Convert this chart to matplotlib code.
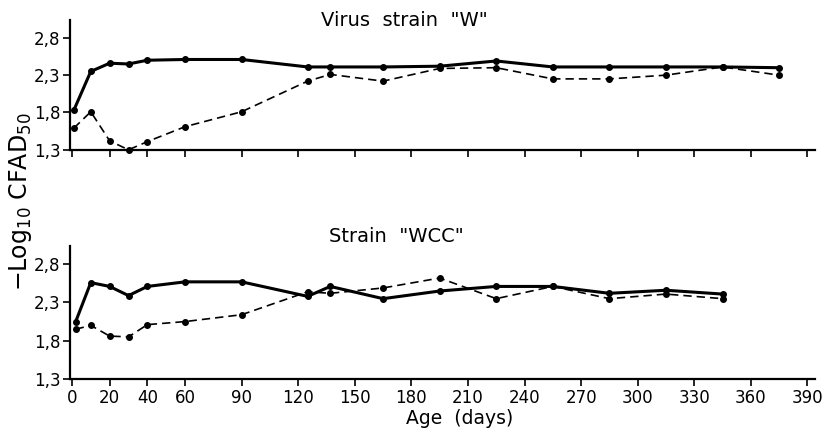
import matplotlib
matplotlib.use("Agg")
import matplotlib.pyplot as plt

# Data
days_w = [1, 10, 20, 30, 40, 60, 90, 125, 137, 165, 195, 225, 255, 285, 315, 345, 375]
w_solid = [1.83, 2.35, 2.46, 2.45, 2.50, 2.51, 2.51, 2.41, 2.41, 2.41, 2.42, 2.49, 2.41, 2.41, 2.41, 2.41, 2.40]
w_dashed = [1.59, 1.81, 1.42, 1.30, 1.41, 1.61, 1.81, 2.22, 2.31, 2.22, 2.39, 2.40, 2.25, 2.25, 2.30, 2.41, 2.30]

days_wcc = [2, 10, 20, 30, 40, 60, 90, 125, 137, 165, 195, 225, 255, 285, 315, 345]
wcc_solid = [2.05, 2.56, 2.51, 2.39, 2.51, 2.57, 2.57, 2.38, 2.51, 2.35, 2.45, 2.51, 2.51, 2.42, 2.46, 2.41]
wcc_dashed = [1.95, 2.00, 1.86, 1.85, 2.01, 2.05, 2.14, 2.44, 2.42, 2.49, 2.62, 2.35, 2.51, 2.35, 2.41, 2.35]

xticks = [0, 20, 40, 60, 90, 120, 150, 180, 210, 240, 270, 300, 330, 360, 390]
yticks = [1.3, 1.8, 2.3, 2.8]
ytick_labels = ["1,3", "1,8", "2,3", "2,8"]

plt.rcParams['font.family'] = ['DejaVu Sans']

fig = plt.figure(figsize=(8.24, 4.33), dpi=100)
ax1 = fig.add_axes([0.085, 0.654, 0.904, 0.30])
ax2 = fig.add_axes([0.085, 0.125, 0.904, 0.307])

def style(ax, show_labels):
    ax.set_xlim(-1, 394)
    ax.set_ylim(1.3, 3.04)
    for s in ['top', 'right']:
        ax.spines[s].set_visible(False)
    for s in ['left', 'bottom']:
        ax.spines[s].set_linewidth(1.6)
        ax.spines[s].set_color('black')
    ax.set_xticks(xticks)
    ax.set_yticks(yticks)
    ax.set_yticklabels(ytick_labels, fontsize=12)
    if show_labels:
        ax.set_xticklabels([str(t) for t in xticks], fontsize=12)
    else:
        ax.set_xticklabels([])
    ax.tick_params(axis='both', direction='out', length=5, width=1.2, colors='black', pad=2)

for ax, d, s, ds in [(ax1, days_w, w_solid, w_dashed), (ax2, days_wcc, wcc_solid, wcc_dashed)]:
    ax.plot(d, s, color='black', lw=2.2, marker='o', ms=4, clip_on=False, zorder=3)
    ax.plot(d, ds, color='black', lw=1.2, ls=(0, (5, 3)), marker='o', ms=4, clip_on=False, zorder=3)

style(ax1, False)
style(ax2, True)

fig.text(404/824, 1 - 20/433, 'Virus  strain  "W"', ha='center', va='center', fontsize=14)
fig.text(396/824, 1 - 236/433, 'Strain  "WCC"', ha='center', va='center', fontsize=14)
fig.text(21/824, 1 - 202/433, r'$-$Log$_{10}$ CFAD$_{50}$', rotation=90, ha='center', va='center', fontsize=17)
fig.text(460/824, 1 - 418/433, 'Age  (days)', ha='center', va='center', fontsize=13.5)

fig.savefig('out.png', dpi=100)
